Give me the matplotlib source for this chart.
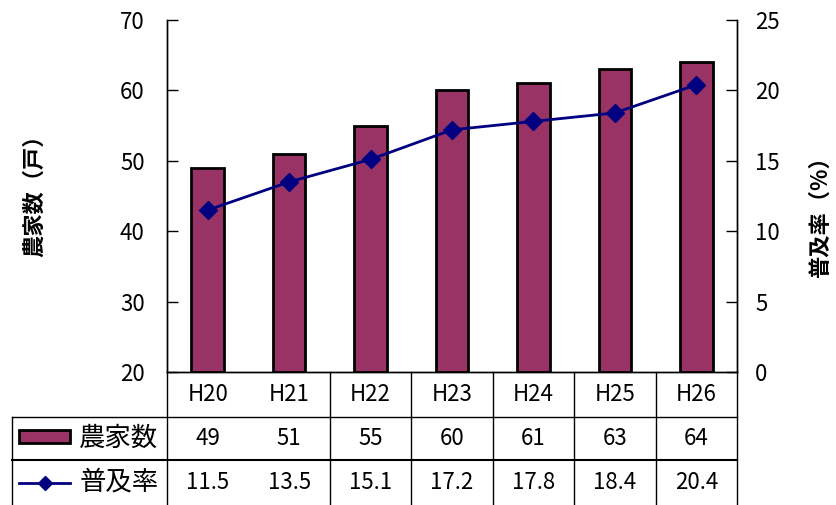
import matplotlib
matplotlib.use('Agg')
import matplotlib.pyplot as plt
import matplotlib.transforms as mtransforms
from matplotlib.lines import Line2D
from matplotlib.patches import Rectangle

plt.rcParams['font.family'] = ['Noto Sans CJK JP', 'DejaVu Sans']

# データ
years = ['H20', 'H21', 'H22', 'H23', 'H24', 'H25', 'H26']
farmers = [49, 51, 55, 60, 61, 63, 64]
rate = [11.5, 13.5, 15.1, 17.2, 17.8, 18.4, 20.4]
rate_labels = ['11.5', '13.5', '15.1', '17.2', '17.8', '18.4', '20.4']

bar_color = '#993366'
line_color = '#000080'

fig = plt.figure(figsize=(8.37, 5.05), dpi=100)
ax = fig.add_axes([167 / 837, 1 - 372 / 505, 570 / 837, 352 / 505])
ax2 = ax.twinx()

x = list(range(len(years)))

# 棒グラフ (農家数)
ax.bar(x, [f - 20 for f in farmers], bottom=20, width=0.4,
       color=bar_color, edgecolor='black', linewidth=2, zorder=2)
ax.set_xlim(-0.5, len(years) - 0.5)
ax.set_ylim(20, 70)
ax.set_yticks(range(20, 71, 10))
ax.set_xticks([])
ax.tick_params(axis='y', direction='in', length=8, width=1, pad=16, labelsize=16)

# 折れ線 (普及率)
ax2.plot(x, rate, color=line_color, linewidth=2, marker='D', markersize=9, zorder=3)
ax2.set_ylim(0, 25)
ax2.set_yticks(range(0, 26, 5))
ax2.tick_params(axis='y', direction='in', length=8, width=1, pad=13, labelsize=16)

for a in (ax, ax2):
    a.spines['top'].set_visible(False)
    for s in a.spines.values():
        s.set_linewidth(1)

# 軸ラベル
fig.text(35 / 837, 1 - 190 / 505, '農家数（戸）', rotation=90, ha='center',
         va='center', fontsize=16, fontweight='bold')
fig.text(820 / 837, 1 - 212 / 505, '普及率（%）', rotation=90, ha='center',
         va='center', fontsize=16, fontweight='bold')

# データテーブル
trans = mtransforms.blended_transform_factory(ax.transData, ax.transAxes)
y1 = -45 / 352
y2 = -88 / 352
y3 = -133 / 352
x_left = -2.40
x_right = len(years) - 0.5

def hline(y, x0, x1, lw=1):
    ax.add_line(Line2D([x0, x1], [y, y], transform=trans, color='black',
                       linewidth=lw, clip_on=False))

def vline(xv, ya, yb, lw=1):
    ax.add_line(Line2D([xv, xv], [ya, yb], transform=trans, color='black',
                       linewidth=lw, clip_on=False))

hline(y1, x_left, x_right)
hline(y2, x_left, x_right, lw=1.5)
vline(x_left, y1, y3)
vline(-0.5, 0, y3)
vline(x_right, 0, y3)
for b in range(1, len(years) - 1):
    vline(b + 0.5, 0, y3)

for i, yr in enumerate(years):
    ax.text(i, y1 / 2, yr, transform=trans, ha='center', va='center', fontsize=16)
    ax.text(i, (y1 + y2) / 2, str(farmers[i]), transform=trans,
            ha='center', va='center', fontsize=16)
    ax.text(i, (y2 + y3) / 2, rate_labels[i], transform=trans,
            ha='center', va='center', fontsize=16)

# 凡例キー
ax.add_patch(Rectangle((-2.318, -0.202), 0.627, 0.037, transform=trans,
                       facecolor=bar_color, edgecolor='black', linewidth=2,
                       clip_on=False))
ax.text(-1.09, (y1 + y2) / 2, '農家数', transform=trans, ha='center',
        va='center', fontsize=19)
ax.add_line(Line2D([-2.318, -1.691], [(y2 + y3) / 2] * 2, transform=trans,
                   color=line_color, linewidth=2, clip_on=False))
ax.add_line(Line2D([-2.0], [(y2 + y3) / 2], transform=trans, color=line_color,
                   marker='D', markersize=7, clip_on=False))
ax.text(-1.09, (y2 + y3) / 2, '普及率', transform=trans, ha='center',
        va='center', fontsize=19)

fig.savefig('out.png', dpi=100)
